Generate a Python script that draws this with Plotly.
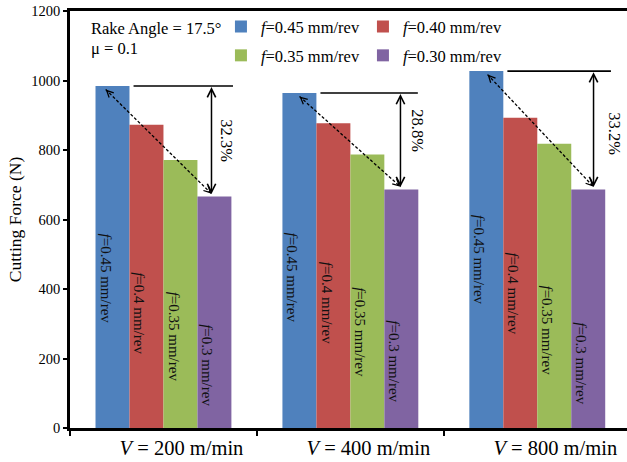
import plotly.graph_objects as go

# Cutting speeds (x categories)
speeds = ["<i>V</i> = 200 m/min", "<i>V</i> = 400 m/min", "<i>V</i> = 800 m/min"]

# Cutting force (N) for each feed rate at each cutting speed
force_f045 = [984, 964, 1027]
force_f040 = [873, 877, 893]
force_f035 = [771, 787, 818]
force_f030 = [666, 686, 686]

legend_names = ["<i>f</i>=0.45 mm/rev", "<i>f</i>=0.40 mm/rev",
                "<i>f</i>=0.35 mm/rev", "<i>f</i>=0.30 mm/rev"]
bar_labels = ["<i>f</i>=0.45 mm/rev", "<i>f</i>=0.4 mm/rev",
              "<i>f</i>=0.35 mm/rev", "<i>f</i>=0.3 mm/rev"]

series = [force_f045, force_f040, force_f035, force_f030]
colors = ["#4F81BD", "#C0504D", "#9BBB59", "#8064A2"]
legend_ids = ["legend", "legend", "legend2", "legend2"]

FONT = "Liberation Serif, Times New Roman, serif"
BARGAP = 0.273
BAR_W = (1 - BARGAP) / 4
bar_offsets = [(-1.5 + k) * BAR_W for k in range(4)]

# pixel drop from each bar top to the top of its rotated label,
# indexed [feed][speed]
label_drop = [[145, 138, 142],
              [146, 137, 133],
              [130, 131, 140],
              [126, 129, 131]]

fig = go.Figure()
for name, vals, col, lg in zip(legend_names, series, colors, legend_ids):
    fig.add_trace(go.Bar(x=speeds, y=vals, name=name, marker_color=col,
                         marker_line_width=0, legend=lg))

annotations = []
shapes = []

# Rotated feed labels inside each bar
for k, vals in enumerate(series):
    for g, v in enumerate(vals):
        annotations.append(dict(
            x=g + bar_offsets[k], y=v, xref="x", yref="y",
            text=bar_labels[k], textangle=90, showarrow=False,
            xanchor="center", yanchor="top", xshift=-7,
            yshift=-label_drop[k][g],
            font=dict(family=FONT, size=15, color="#111111")))

# Reduction markers between the largest and smallest feed in each group
arrow_x = [0.257, 0.268, 0.301]
hline_end = [0.372, 0.361, 0.394]
dash_start = [-0.309, -0.272, -0.266]
pct_xshift = [4, 6, 10]
pct_yshift = [0, 10, -3]

for g in range(3):
    top = force_f045[g]
    low = force_f030[g]
    xa = g + arrow_x[g]
    pct = (top - low) / top * 100

    # reference line level with the tallest bar
    shapes.append(dict(type="line", xref="x", yref="y",
                       x0=g - 0.16, x1=g + hline_end[g], y0=top, y1=top,
                       line=dict(color="black", width=1.6)))
    # solid double arrow
    annotations.append(dict(
        x=xa, y=top - 3, ax=xa, ay=low + 3, xref="x", yref="y",
        axref="x", ayref="y", text="", showarrow=True,
        arrowside="end+start", arrowhead=5, startarrowhead=5,
        arrowsize=1.1, startarrowsize=1.1, arrowwidth=1.5, arrowcolor="black"))
    # dashed diagonal with heads at both ends
    xs, ys = g + dash_start[g], top - 10
    xe, ye = xa, low + 8
    shapes.append(dict(type="line", xref="x", yref="y",
                       x0=xs, y0=ys, x1=xe, y1=ye,
                       line=dict(color="black", width=1.3, dash="3px,2px")))
    for (hx, hy, tx, ty) in [(xs, ys, xe, ye), (xe, ye, xs, ys)]:
        annotations.append(dict(
            x=hx, y=hy, ax=hx + (tx - hx) * 0.04, ay=hy + (ty - hy) * 0.04,
            xref="x", yref="y", axref="x", ayref="y", text="",
            showarrow=True, arrowhead=5, arrowsize=1.0, arrowwidth=1.3,
            arrowcolor="black"))
    # percentage text
    annotations.append(dict(
        x=xa, y=(top + low) / 2, xref="x", yref="y",
        text=f"{pct:.1f}%", textangle=90, showarrow=False,
        xshift=pct_xshift[g], yshift=pct_yshift[g], xanchor="left",
        font=dict(family=FONT, size=16.5, color="black")))

# Test conditions
annotations.append(dict(x=0.034, y=0.957, xref="paper", yref="paper",
                        text="Rake Angle = 17.5°", showarrow=False,
                        xanchor="left", yanchor="middle",
                        font=dict(family=FONT, size=16.5, color="black")))
annotations.append(dict(x=0.034, y=0.909, xref="paper", yref="paper",
                        text="μ = 0.1", showarrow=False,
                        xanchor="left", yanchor="middle",
                        font=dict(family=FONT, size=16.5, color="black")))

legend_common = dict(orientation="h", xanchor="left", yanchor="middle",
                     bgcolor="rgba(0,0,0,0)", entrywidth=97,
                     font=dict(family=FONT, size=16.5, color="black"),
                     traceorder="normal")

fig.update_layout(
    width=627, height=462,
    margin=dict(l=70, r=0, t=11, b=34, pad=0),
    paper_bgcolor="white", plot_bgcolor="white",
    barmode="group", bargap=BARGAP, bargroupgap=0,
    font=dict(family=FONT, color="black"),
    legend=dict(x=0.271, y=0.962, **legend_common),
    legend2=dict(x=0.271, y=0.893, **legend_common),
    annotations=annotations, shapes=shapes,
    xaxis=dict(type="category", range=[-0.5, 2.48],
               showline=True, linecolor="black", linewidth=2.5, mirror=True,
               ticks="outside", tickson="boundaries", ticklen=5,
               tickcolor="black", tickwidth=1.5, ticklabelshift=18,
               tickfont=dict(family=FONT, size=20.5, color="black"),
               showgrid=False, zeroline=False),
    yaxis=dict(range=[0, 1200], dtick=200, showline=True, linecolor="black",
               linewidth=2.5, ticks="outside", ticklen=4, tickcolor="black",
               tickwidth=1.5, tickfont=dict(family=FONT, size=14.5, color="black"),
               showgrid=False, zeroline=False,
               title=dict(text="Cutting Force (N)", standoff=6,
                          font=dict(family=FONT, size=17.5, color="black"))),
)

fig.write_html("out.html")
